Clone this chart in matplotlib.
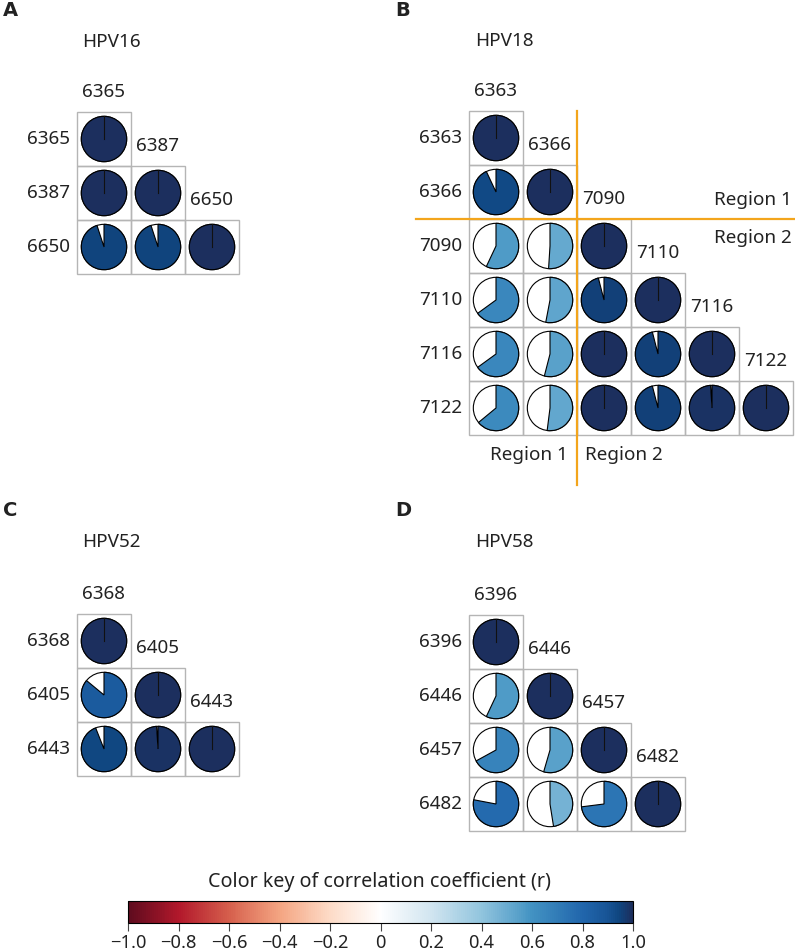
import matplotlib
matplotlib.use("Agg")
import matplotlib.pyplot as plt
from matplotlib.patches import Wedge, Circle, Rectangle
from matplotlib.colors import LinearSegmentedColormap, Normalize
import matplotlib.cm as cm

# Données : coefficients de corrélation (triangle inférieur, ligne par ligne)
hpv16_sites = ["6365", "6387", "6650"]
hpv16_r = [[1.0],
           [1.0, 1.0],
           [0.95, 0.95, 1.0]]

hpv18_sites = ["6363", "6366", "7090", "7110", "7116", "7122"]
hpv18_r = [[1.0],
           [0.93, 1.0],
           [0.57, 0.51, 1.0],
           [0.65, 0.53, 0.96, 1.0],
           [0.65, 0.54, 1.0, 0.96, 1.0],
           [0.64, 0.52, 1.0, 0.96, 0.99, 1.0]]

hpv52_sites = ["6368", "6405", "6443"]
hpv52_r = [[1.0],
           [0.86, 1.0],
           [0.94, 0.99, 1.0]]

hpv58_sites = ["6396", "6446", "6457", "6482"]
hpv58_r = [[1.0],
           [0.57, 1.0],
           [0.67, 0.545, 1.0],
           [0.78, 0.475, 0.73, 1.0]]

cbar_ticks = [-1.0, -0.8, -0.6, -0.4, -0.2, 0.0, 0.2, 0.4, 0.6, 0.8, 1.0]
cbar_labels = ["\u22121.0", "\u22120.8", "\u22120.6", "\u22120.4", "\u22120.2", "0",
               "0.2", "0.4", "0.6", "0.8", "1.0"]

# Style
W, H = 795, 951
CELL = 54
R = 0.42
TXT = "#222222"
GRID = "#b5b5b5"
ORANGE = "#f3a51c"
FS = 13.6

plt.rcParams["font.family"] = ["Noto Sans", "DejaVu Sans"]

cmap = LinearSegmentedColormap.from_list("rkey", [
    (0.00, "#5e0b1e"), (0.10, "#b2182b"), (0.20, "#d6604d"), (0.30, "#f4a582"),
    (0.40, "#fddbc7"), (0.50, "#ffffff"), (0.60, "#d1e5f0"), (0.70, "#92c5de"),
    (0.80, "#4393c3"), (0.90, "#2166ac"), (0.95, "#185597"), (0.975, "#0f457f"),
    (1.00, "#1c2f5e")])
norm = Normalize(-1, 1)

fig = plt.figure(figsize=(W / 100, H / 100), dpi=100)


def px_axes(left, top, n):
    size = n * CELL
    return fig.add_axes([left / W, 1 - (top + size) / H, size / W, size / H])


def fig_text(x, y, s, **kw):
    fig.text(x / W, 1 - y / H, s, color=TXT, **kw)


def panel_letter(x, y, s):
    fig.text(x / W, 1 - y / H, s, color=TXT, fontsize=14, fontweight="bold",
             family="DejaVu Sans", ha="left", va="center")


def draw_matrix(ax, sites, r):
    n = len(sites)
    ax.set_xlim(0, n)
    ax.set_ylim(n, 0)
    ax.set_aspect("equal")
    ax.axis("off")
    for i, row in enumerate(r):
        ax.text(-0.13, i + 0.5, sites[i], ha="right", va="center",
                fontsize=FS, color=TXT)
        for j, val in enumerate(row):
            ax.add_patch(Rectangle((j, i), 1, 1, fill=False, ec=GRID, lw=1.0,
                                   clip_on=False))
            cx, cy = j + 0.5, i + 0.5
            col = cmap(norm(val))
            ax.add_patch(Circle((cx, cy), R, fc="white", ec="black", lw=0.8))
            if val >= 1.0:
                ax.add_patch(Circle((cx, cy), R, fc=col, ec="black", lw=0.8))
                ax.plot([cx, cx], [cy, cy - R], color="#111111", lw=0.8)
            else:
                ax.add_patch(Wedge((cx, cy), R, 270, 270 + 360 * val,
                                   fc=col, ec="black", lw=0.8))
    for j, s in enumerate(sites):
        ax.text(j + 0.09, j - 0.37, s, ha="left", va="center",
                fontsize=FS, color=TXT)


# A - HPV16
panel_letter(3, 10, "A")
fig_text(82, 42, "HPV16", fontsize=FS, ha="left", va="center")
ax_a = px_axes(77, 112, len(hpv16_sites))
draw_matrix(ax_a, hpv16_sites, hpv16_r)

# B - HPV18
panel_letter(395, 10, "B")
fig_text(475, 41, "HPV18", fontsize=FS, ha="left", va="center")
ax_b = px_axes(469, 111, len(hpv18_sites))
draw_matrix(ax_b, hpv18_sites, hpv18_r)
ax_b.plot([2, 2], [0, 6.93], color=ORANGE, lw=1.6, clip_on=False, zorder=5)
ax_b.plot([-0.98, 6.1], [2, 2], color=ORANGE, lw=1.6, clip_on=False, zorder=5)
ax_b.text(5.98, 1.65, "Region 1", ha="right", va="center", fontsize=FS, color=TXT)
ax_b.text(5.98, 2.35, "Region 2", ha="right", va="center", fontsize=FS, color=TXT)
ax_b.text(1.83, 6.37, "Region 1", ha="right", va="center", fontsize=FS, color=TXT)
ax_b.text(2.15, 6.37, "Region 2", ha="left", va="center", fontsize=FS, color=TXT)

# C - HPV52
panel_letter(3, 510, "C")
fig_text(82, 542, "HPV52", fontsize=FS, ha="left", va="center")
ax_c = px_axes(77, 614, len(hpv52_sites))
draw_matrix(ax_c, hpv52_sites, hpv52_r)

# D - HPV58
panel_letter(395, 510, "D")
fig_text(475, 542, "HPV58", fontsize=FS, ha="left", va="center")
ax_d = px_axes(469, 615, len(hpv58_sites))
draw_matrix(ax_d, hpv58_sites, hpv58_r)

# Barre de couleur
cax = fig.add_axes([128 / W, 1 - 923 / H, (633 - 128) / W, 22 / H])
cb = fig.colorbar(cm.ScalarMappable(norm=norm, cmap=cmap), cax=cax,
                  orientation="horizontal", ticks=cbar_ticks)
cb.set_ticklabels(cbar_labels)
cb.outline.set_linewidth(0.8)
cax.tick_params(length=6, width=0.8, color="#444444", labelsize=13.2,
                labelcolor=TXT, pad=2)
fig_text(380, 882, "Color key of correlation coefficient (r)", fontsize=14.2,
         ha="center", va="center")

fig.savefig("out.png", dpi=100)
